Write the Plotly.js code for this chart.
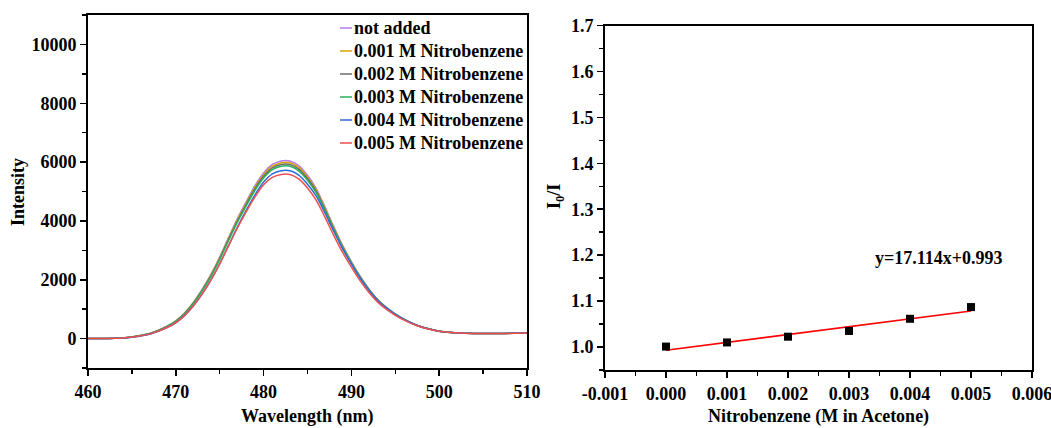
<!DOCTYPE html>
<html>
<head>
<meta charset="utf-8">
<script src="https://cdn.plot.ly/plotly-3.0.1.min.js"></script>
<style>html,body{margin:0;padding:0;background:#fff;}#chart{width:1051px;height:428px;}</style>
</head>
<body>
<div id="chart"></div>
<script>
// ---- Data ----
const wavelength = [460,461,462,463,464,465,466,467,468,469,470,471,472,473,474,475,476,477,478,479,480,481,482,483,484,485,486,487,488,489,490,491,492,493,494,495,496,497,498,499,500,501,502,503,504,505,506,507,508,509,510];

const seriesNames = ["not added","0.001 M Nitrobenzene","0.002 M Nitrobenzene","0.003 M Nitrobenzene","0.004 M Nitrobenzene","0.005 M Nitrobenzene"];
const seriesColors = ["#B47CF0","#D9A400","#6B6B6B","#2BAF5B","#2F6BD6","#F04E4E"];

const notAdded = [0,0,3,10,25,57,105,170,280,420,600, 870,1230,1670,2180,2770,3430,4070,4640,5190,5630, 5920,6040,6040,5880,5550,5100,4470,3800,3170,2620, 2120,1690,1330,1060,840,660,515,400,320,255, 220,200,185,175,172,172,175,180,185,190];
const nb001 = [0,0,3,10,25,56,104,168,277,416,594, 861,1218,1653,2158,2742,3396,4029,4594,5138,5574, 5861,5980,5980,5821,5495,5049,4425,3762,3138,2594, 2099,1673,1317,1049,832,653,510,396,317,252, 218,198,183,173,170,170,173,178,183,188];
const nb002 = [0,0,3,10,24,56,103,167,274,412,588, 853,1205,1637,2136,2715,3361,3989,4547,5086,5517, 5802,5920,5920,5762,5439,4998,4381,3724,3107,2568, 2078,1656,1303,1039,823,647,505,392,314,250, 216,196,181,172,169,169,172,176,181,186];
const nb003 = [0,0,3,10,24,55,102,165,272,407,582, 844,1193,1620,2115,2687,3327,3948,4501,5034,5461, 5742,5860,5860,5704,5384,4950,4340,3700,3090,2565, 2080,1660,1308,1045,830,652,510,396,317,253, 218,198,183,174,171,171,174,179,184,189];
const nb004 = [0,0,2,8,21,48,90,148,245,370,535, 780,1105,1510,1990,2540,3160,3780,4350,4880,5320, 5600,5705,5705,5560,5250,4840,4260,3640,3050,2530, 2050,1640,1295,1035,825,650,508,395,316,252, 218,198,183,174,171,171,174,179,184,189];
const nb005 = [0,0,2,9,22,50,93,152,252,378,545, 790,1115,1520,1995,2540,3150,3750,4300,4810,5230, 5480,5580,5580,5430,5120,4700,4120,3500,2930,2430, 1960,1570,1240,990,790,625,490,385,308,247, 214,195,181,172,169,169,172,177,182,187];

const concentration = [0.000,0.001,0.002,0.003,0.004,0.005];
const ratioI0I = [1.001,1.010,1.0225,1.035,1.0615,1.087];
const fitSlope = 17.114;
const fitIntercept = 0.993;
const fitLabel = "y=17.114x+0.993";

const rightXTickVals = [-0.001,0,0.001,0.002,0.003,0.004,0.005,0.006];
const rightXTickText = ["-0.001","0.000","0.001","0.002","0.003","0.004","0.005","0.006"];

const leftXTitle = "Wavelength (nm)";
const leftYTitle = "Intensity";
const rightXTitle = "Nitrobenzene (M in Acetone)";
const rightYTitle = "I<sub>0</sub>/I";

// ---- Traces ----
const spectra = [notAdded, nb001, nb002, nb003, nb004, nb005];
const traces = spectra.map((ys, i) => ({
  type: 'scatter', mode: 'lines', x: wavelength, y: ys,
  name: seriesNames[i], showlegend: false,
  line: {color: seriesColors[i], width: 1.5, shape: 'spline', smoothing: 0.8},
  xaxis: 'x', yaxis: 'y'
}));

const fitX = [concentration[0], concentration[concentration.length - 1]];
const fitY = fitX.map(x => fitSlope * x + fitIntercept);
traces.push({
  type: 'scatter', mode: 'lines', x: fitX, y: fitY, showlegend: false,
  line: {color: '#FF0000', width: 1.5}, xaxis: 'x2', yaxis: 'y2'
});
traces.push({
  type: 'scatter', mode: 'markers', x: concentration, y: ratioI0I, showlegend: false,
  marker: {symbol: 'square', size: 8, color: '#000000'}, xaxis: 'x2', yaxis: 'y2'
});

const W = 1051, H = 428;
const FAM = 'Liberation Serif';
const tickFont = {family: FAM, size: 18, color: '#000', weight: 'bold'};
const textFont = {family: FAM, size: 18, color: '#000', weight: 'bold'};

const axisCommon = {
  showline: true, mirror: true, linecolor: '#000', linewidth: 2,
  ticks: 'outside', ticklen: 6, tickwidth: 1.5, tickcolor: '#000',
  showgrid: false, zeroline: false, tickfont: tickFont, automargin: false,
  exponentformat: 'none', separatethousands: false, ticklabeloverflow: 'allow'
};

// ---- Hand-drawn legend (short line + text), positioned in pixels ----
const legendShapes = [];
const textAnnotations = [];
seriesNames.forEach((name, i) => {
  const yPx = 28 + 23 * i;
  legendShapes.push({
    type: 'line', xref: 'paper', yref: 'paper',
    x0: 340 / W, x1: 352 / W, y0: 1 - yPx / H, y1: 1 - yPx / H,
    line: {color: seriesColors[i], width: 1.5}
  });
  textAnnotations.push({
    xref: 'paper', yref: 'paper', x: 352 / W, y: 1 - yPx / H,
    xanchor: 'left', yanchor: 'middle', showarrow: false, text: name, font: textFont
  });
});

// ---- Axis titles as annotations (pixel placement) ----
function paperText(text, xPx, yPx, angle) {
  return {xref: 'paper', yref: 'paper', x: xPx / W, y: 1 - yPx / H,
    xanchor: 'center', yanchor: 'middle', showarrow: false, text: text,
    textangle: angle || 0, font: textFont, borderpad: 0};
}
textAnnotations.push(paperText(leftXTitle, 307.5, 416, 0));
textAnnotations.push(paperText(leftYTitle, 18, 192, -90));
textAnnotations.push(paperText(rightXTitle, 818.5, 416.5, 0));
textAnnotations.push(paperText(rightYTitle, 555, 197, -90));
textAnnotations.push({
  xref: 'x2', yref: 'y2', x: 0.00448, y: 1.193, text: fitLabel, showarrow: false, font: textFont
});

const layout = {
  width: W, height: H,
  margin: {l: 0, r: 0, t: 0, b: 0},
  paper_bgcolor: '#fff', plot_bgcolor: '#fff',
  font: {family: FAM},
  showlegend: false,
  xaxis: Object.assign({}, axisCommon, {
    domain: [88 / W, 527 / W], anchor: 'y',
    range: [460, 510], dtick: 10, tick0: 460,
    minor: {dtick: 5, ticklen: 4, tickwidth: 1.5, tickcolor: '#000', ticks: 'outside', showgrid: false}
  }),
  yaxis: Object.assign({}, axisCommon, {
    domain: [(H - 368) / H, (H - 15) / H], anchor: 'x',
    range: [-1000, 11000], dtick: 2000, tick0: 0, tickformat: 'd',
    minor: {dtick: 1000, ticklen: 4, tickwidth: 1.5, tickcolor: '#000', ticks: 'outside', showgrid: false}
  }),
  xaxis2: Object.assign({}, axisCommon, {
    domain: [605 / W, 1032 / W], anchor: 'y2',
    range: [-0.001, 0.006], tickvals: rightXTickVals, ticktext: rightXTickText,
    minor: {dtick: 0.0005, tick0: 0, ticklen: 4, tickwidth: 1.5, tickcolor: '#000', ticks: 'outside', showgrid: false}
  }),
  yaxis2: Object.assign({}, axisCommon, {
    domain: [(H - 370) / H, (H - 25.5) / H], anchor: 'x2',
    range: [0.95, 1.7], dtick: 0.1, tick0: 1.0, tickformat: '.1f',
    minor: {dtick: 0.05, tick0: 1.0, ticklen: 4, tickwidth: 1.5, tickcolor: '#000', ticks: 'outside', showgrid: false}
  }),
  shapes: legendShapes,
  annotations: textAnnotations
};

Plotly.newPlot('chart', traces, layout, {displayModeBar: false, staticPlot: true});
</script>
</body>
</html>
